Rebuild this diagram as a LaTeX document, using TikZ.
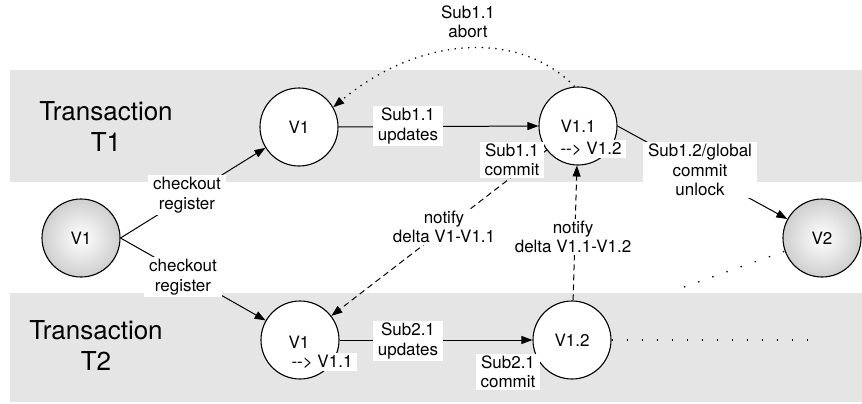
\documentclass[tikz,border=0pt]{standalone}
\usepackage{fontspec}
\setmainfont{TeX Gyre Heros}
\usetikzlibrary{arrows.meta}
\newcommand\mylabfont{\fontsize{17}{19.5}\selectfont}
\newcommand\mybigfont{\fontsize{26}{31}\selectfont}
\tikzset{
  vcirc/.style={circle, draw, line width=1.1pt, minimum size=78pt, inner sep=0pt, fill=white, font=\mylabfont},
  gcirc/.style={vcirc, fill=none, inner color=white, outer color=black!19},
  lbl/.style={fill=white, align=center, inner xsep=5pt, inner ysep=2pt, font=\mylabfont},
  plainlbl/.style={align=center, inner sep=1pt, font=\mylabfont},
  conn/.style={line width=1pt, -{Triangle[length=11pt,width=8pt]}},
  dashconn/.style={conn, dash pattern=on 6pt off 4pt},
  dotconn/.style={conn, line width=1.3pt, dash pattern=on 1.3pt off 5.5pt},
  sparsedots/.style={line width=1.3pt, dash pattern=on 1.4pt off 13.6pt},
  band/.style={fill=black!10},
  title/.style={align=center, font=\mybigfont}
}
\begin{document}
\begin{tikzpicture}[x=1pt, y=-1pt]
\useasboundingbox (0,0) rectangle (862,404);
% bands
\fill[band] (10,70) rectangle (862,182);
\fill[band] (10,293) rectangle (862,402);
\node[title] (t1) at (106,127) {Transaction\\T1};
\node[title] (t2) at (96,346) {Transaction\\T2};
% circles
\node[gcirc] (g1) at (81,238) {V1};
\node[vcirc] (v1a) at (299,127) {V1};
\node[vcirc] (v11) at (578,126) {V1.1};
\node[vcirc] (v1b) at (300,340) {};
\node[plainlbl] (v1btxt) at (299,342) {V1};
\node[vcirc] (v12) at (572,340) {V1.2};
\node[gcirc] (v2) at (822,238) {V2};
\coordinate (d1) at (684,287);
\coordinate (d2) at (815,340);
% connectors
\draw[conn] (g1.east) -- (v1a);
\draw[conn] (g1.east) -- (v1b);
\draw[conn] (v1a.east) -- (v11.west);
\draw[conn] (v1b.east) -- (v12.west);
\draw[conn] (v11.east) -- (v2);
\draw[dashconn] (v11) -- (v1b);
\draw[dashconn] (v12) -- (v11);
\draw[dotconn] (v11.95) .. controls (520,30) and (420,35) .. (v1a.30);
\draw[sparsedots] (v12.east) -- (d2);
\draw[sparsedots] (d1) -- (v2);
% labels
\node[lbl] (chk1) at (187,195) {checkout\\register};
\node[lbl] (chk2) at (183,277) {checkout\\register};
\node[lbl] (upd1) at (408,126) {Sub1.1\\updates};
\node[lbl] (upd2) at (408,341) {Sub2.1\\updates};
\node[lbl] (com1) at (512,160) {Sub1.1\\commit};
\node[lbl] (v11b) at (591,149) {-\kern0pt-\kern0pt> V1.2};
\node[lbl] (v1c) at (322,362) {-\kern0pt-\kern0pt> V1.1};
\node[lbl] (glob) at (700,170) {Sub1.2/global\\commit\\unlock};
\node[plainlbl] (abort) at (468,22) {Sub1.1\\abort};
\node[lbl] (nd1) at (444,227) {notify\\delta V1-V1.1};
\node[lbl] (nd2) at (573,237) {notify\\delta V1.1-V1.2};
\node[lbl] (com2) at (508,372) {Sub2.1\\commit};
\end{tikzpicture}
\end{document}
